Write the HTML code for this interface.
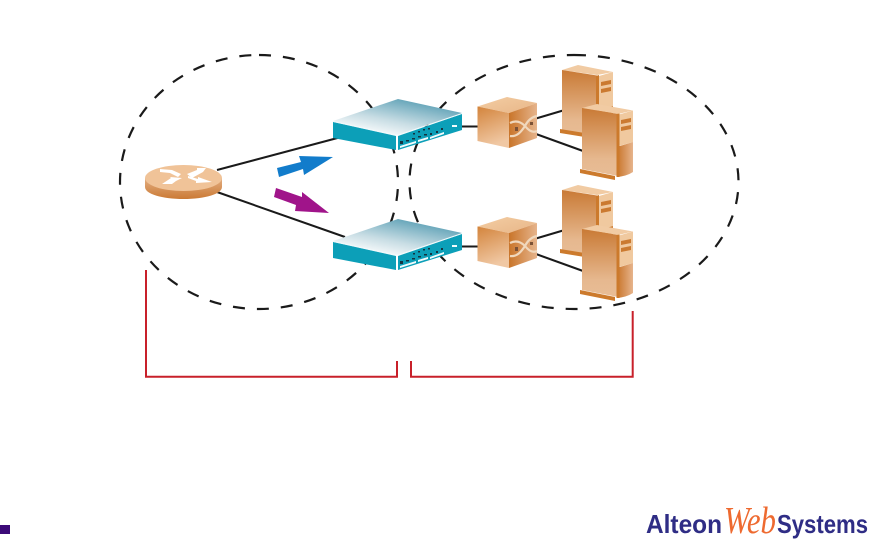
<!DOCTYPE html>
<html><head><meta charset="utf-8"><style>html,body{margin:0;padding:0;background:#fff}svg{display:block}</style></head><body>
<svg width="869" height="540" viewBox="0 0 869 540" xmlns="http://www.w3.org/2000/svg">
<defs>
<linearGradient id="sw" x1="0.15" y1="0.9" x2="0.75" y2="0.05"><stop offset="0" stop-color="#ffffff"/><stop offset="0.4" stop-color="#c8dde4"/><stop offset="1" stop-color="#579db3"/></linearGradient>
<linearGradient id="cf" x1="0" y1="0" x2="0.3" y2="1"><stop offset="0" stop-color="#d3843c"/><stop offset="1" stop-color="#f0c8a4"/></linearGradient>
<linearGradient id="cr" x1="0" y1="0" x2="1" y2="0"><stop offset="0" stop-color="#c9752a"/><stop offset="1" stop-color="#e6b48c"/></linearGradient>
<linearGradient id="ct" x1="0" y1="0" x2="1" y2="1"><stop offset="0" stop-color="#f3cda3"/><stop offset="1" stop-color="#e8b688"/></linearGradient>
<linearGradient id="sf" x1="0" y1="0" x2="0" y2="1"><stop offset="0" stop-color="#c97a35"/><stop offset="0.75" stop-color="#e6b88f"/><stop offset="1" stop-color="#e8bd96"/></linearGradient>
<linearGradient id="rt" x1="0" y1="0" x2="0" y2="1"><stop offset="0" stop-color="#e2ad80"/><stop offset="1" stop-color="#cb7a35"/></linearGradient>
<g id="switch">
<polygon points="333,121 398,99 462,113 397,135" fill="url(#sw)"/>
<polygon points="333,122 396,136 396,150 333,138" fill="#0c9fb8"/>
<polygon points="398,136 462,114 462,130 398,150" fill="#0c9fb8"/>
<polyline points="333,121.500 397,135.500 462,113.500" fill="none" stroke="#eef8fa" stroke-width="0.800"/>
<line x1="397" y1="135" x2="397" y2="150" stroke="#fff" stroke-width="1.200"/>
<g fill="#14323f"><rect x="400" y="141" width="3" height="3"/><rect x="406" y="140" width="3" height="1.500"/><rect x="412" y="138" width="3" height="1.500"/><rect x="418" y="136" width="3" height="1.500"/><rect x="424" y="134" width="3" height="1.500"/><rect x="430" y="133" width="2" height="2"/><rect x="436" y="131" width="2" height="2"/><rect x="441" y="128" width="2" height="2"/><rect x="413" y="133" width="2" height="1.500"/><rect x="418" y="131" width="2" height="1.500"/><rect x="423" y="129" width="2" height="1.500"/><rect x="428" y="128" width="2" height="1.500"/></g>
<g fill="#f2fbfc"><polygon points="400,146 416,141 416,143 400,148"/><polygon points="418,140 428,137 428,139 418,142"/><polygon points="430,137 444,132 444,134 430,139"/><rect x="452" y="125" width="5" height="2"/></g>
</g>
<g id="cube">
<polygon points="477.500,106.500 507,97 537,103 509,113" fill="url(#ct)"/>
<polygon points="477.500,106.500 509,113 509,148 477.500,141" fill="url(#cf)"/>
<polygon points="509,113 537,103 537,138 509,148" fill="url(#cr)"/>
<g fill="none" stroke="#f0d8bd" stroke-width="2.200">
<path d="M510,123 C516,120 521,122 525,126 C529,131 533,133 537,131"/>
<path d="M510,136 C517,137 521,132 525,126 C528,120 532,117 537,116"/>
</g>
<g fill="#7c5236"><rect x="515" y="127" width="3" height="4"/><rect x="530" y="122" width="3" height="3"/></g>
</g>
<g id="srvb">
<polygon points="562,70 578,65 613,72 597,75" fill="#f1cba3"/>
<polygon points="562,70 597,75.500 597,137 562,130" fill="url(#sf)"/>
<polygon points="599,76 613,72 613,106 599,110" fill="#f0c99f"/>
<polygon points="599,110 613,106 613,115 599,120" fill="#cb7a30"/>
<polygon points="596,76 599,75 599,137 596,137" fill="#cc7a2c"/>
<polygon points="601,82 611,80 611,84 601,86" fill="#cb7a30"/>
<polygon points="601,89 611,87 611,91 601,93" fill="#cb7a30"/>
<polygon points="560,129 597,135 597,139 560,133" fill="#cc7a2c"/>
</g>
<g id="srvf">
<polygon points="582,108 597,104 633,110.500 618,114" fill="#f1cba3"/>
<polygon points="582,108 618,114 618,176 582,169" fill="url(#sf)"/>
<polygon points="619,114.500 633,110.500 633,142 619,146" fill="#f0c99f"/>
<path d="M620,146 L633,142 L633,172 Q627,176 617,177 L617,146 Z" fill="url(#cr)"/>
<polygon points="616.500,114 619.500,113.500 619.500,177 616.500,177" fill="#cc7a2c"/>
<polygon points="621,120 631,118 631,122 621,124" fill="#cb7a30"/>
<polygon points="621,127 631,125 631,129 621,131" fill="#cb7a30"/>
<polygon points="580,169 615,176 615,180 580,173" fill="#cc7a2c"/>
</g>
</defs>

<g fill="none" stroke="#1a1a1a" stroke-width="2.200" stroke-dasharray="12 12">
<path d="M259,55 A139,127 0 1 1 259,309 A139,127 0 1 1 259,55"/>
<path d="M574,55 A164.500,127 0 1 1 574,309 A164.500,127 0 1 1 574,55"/>
</g>

<g stroke="#1a1a1a" stroke-width="2" fill="none">
<line x1="217" y1="170" x2="345" y2="136"/>
<line x1="217" y1="192" x2="345" y2="237"/>
<line x1="460" y1="126.500" x2="478" y2="126.500"/>
<line x1="460" y1="246.500" x2="478" y2="246.500"/>
<line x1="536" y1="118.500" x2="563" y2="110.500"/>
<line x1="536" y1="134" x2="583" y2="151"/>
<line x1="536" y1="238.500" x2="563" y2="230.500"/>
<line x1="536" y1="254" x2="583" y2="271"/>
</g>

<use href="#switch"/>
<use href="#switch" y="120"/>
<use href="#srvb"/>
<use href="#srvb" y="120"/>
<use href="#cube"/>
<use href="#cube" y="120"/>
<use href="#srvf"/>
<use href="#srvf" y="121"/>

<path d="M145,178 L145,187 C145,194 162,199 183.500,199 C205,199 222,194 222,187 L222,178 Z" fill="url(#rt)"/>
<ellipse cx="183.500" cy="178" rx="38.500" ry="13" fill="#f0c398"/>
<g fill="#fff">
<polygon points="160,169 172,170 181,174 178,177 170,173 160,172"/>
<polygon points="187,174 197,170 197,168 206,168 203,172 192,178"/>
<polygon points="162,184 171,178 170,177 182,178 176,181 172,184"/>
<polygon points="188,176 198,179 198,177 212,182 196,183 196,181 188,178"/>
</g>

<polygon points="277,168 301,162 299,156 333,157 304,175 303,169 279,177" fill="#127ccb"/>
<polygon points="276,188 302,197 302,192 329,213 295,211 296,205 274,197" fill="#a0148a"/>

<polyline points="146,270 146,376.800 397,376.800 397,361" fill="none" stroke="#c8202a" stroke-width="2"/>
<polyline points="411,361 411,376.800 632.700,376.800 632.700,311" fill="none" stroke="#c8202a" stroke-width="2"/>

<rect x="0" y="525" width="10" height="9" fill="#3c0a78"/>

<text x="646" y="533" font-family="Liberation Sans, sans-serif" font-weight="700" font-size="26" fill="#2f2d85" textLength="76" lengthAdjust="spacingAndGlyphs">Alteon</text>
<text x="724" y="533" font-family="Liberation Serif, serif" font-style="italic" font-size="38" fill="#ee6a30" textLength="52" lengthAdjust="spacingAndGlyphs">Web</text>
<text x="777" y="533" font-family="Liberation Sans, sans-serif" font-weight="700" font-size="26" fill="#2f2d85" textLength="91" lengthAdjust="spacingAndGlyphs">Systems</text>
</svg>
</body></html>
